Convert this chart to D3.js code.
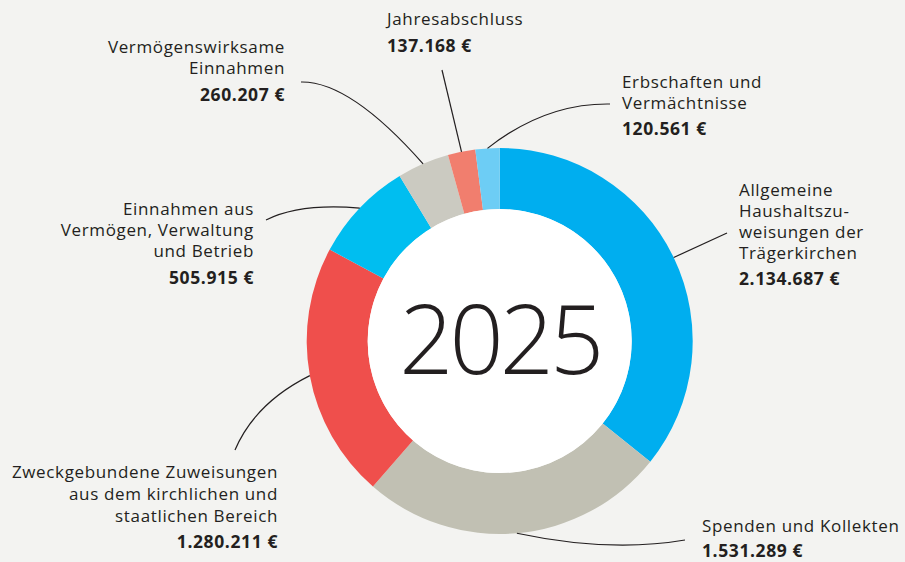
<!DOCTYPE html>
<html>
<head>
<meta charset="utf-8">
<script src="https://cdn.jsdelivr.net/npm/d3@7"></script>
<style>
  html, body { margin: 0; padding: 0; background: #f3f3f1; }
  svg { display: block; }
  .lbl { font-family: "Open Sans", sans-serif; font-size: 17px; fill: #231f20; letter-spacing: 0.65px; }
  .val { font-weight: 700; font-size: 17.5px; letter-spacing: 0.6px; }
</style>
</head>
<body>
<div id="chart"></div>
<script>
// Einnahmen 2025, im Uhrzeigersinn ab 12 Uhr
var categories = [
  ["Allgemeine", "Haushaltszu-", "weisungen der", "Trägerkirchen"],
  ["Spenden und Kollekten"],
  ["Zweckgebundene Zuweisungen", "aus dem kirchlichen und", "staatlichen Bereich"],
  ["Einnahmen aus", "Vermögen, Verwaltung", "und Betrieb"],
  ["Vermögenswirksame", "Einnahmen"],
  ["Jahresabschluss"],
  ["Erbschaften und", "Vermächtnisse"]
];
var values = [2134687, 1531289, 1280211, 505915, 260207, 137168, 120561];
var colors = ["#00aeef", "#c1c0b3", "#ef4f4c", "#00bef0", "#cbcac1", "#f17e6e", "#6dcdf5"];
var centerText = "2025";

// Lage der Beschriftungen (x, erste Grundlinie, Ausrichtung, Abstand zum Betrag) und der Linien
var labelLayout = [
  {x: 739, y: 195.5, anchor: "start", lh: 21, gap: 26, end: [727, 233], ctrl: null},
  {x: 702, y: 531.5, anchor: "start", lh: 21, gap: 25.5, end: [685, 540], ctrl: [610, 553]},
  {x: 278, y: 478, anchor: "end", lh: 21.8, gap: 26.5, end: [235, 450], ctrl: [255, 403]},
  {x: 254, y: 214.5, anchor: "end", lh: 21, gap: 27, end: [266, 220], ctrl: [300, 203]},
  {x: 285, y: 53, anchor: "end", lh: 21.3, gap: 26.7, end: [301, 82], ctrl: [350, 81]},
  {x: 387, y: 25, anchor: "start", lh: 21, gap: 26.7, end: [442, 70], ctrl: null},
  {x: 622, y: 88, anchor: "start", lh: 21, gap: 26.3, end: [610, 104], ctrl: [545, 103]}
];

var width = 905, height = 562;
var cx = 499.7, cy = 341, rOuter = 193, rInner = 132;

var fmt = d3.formatLocale({decimal: ",", thousands: ".", grouping: [3], currency: ["", " €"]}).format(",d");

var svg = d3.select("#chart").append("svg")
  .attr("width", width)
  .attr("height", height);

svg.append("rect").attr("width", width).attr("height", height).attr("fill", "#f3f3f1");

var g = svg.append("g").attr("transform", "translate(" + cx + "," + cy + ")");

var pie = d3.pie().sort(null).value(function (d) { return d; });
var arcs = pie(values);

var arc = d3.arc().innerRadius(rInner).outerRadius(rOuter);

g.selectAll("path.slice")
  .data(arcs)
  .enter().append("path")
  .attr("class", "slice")
  .attr("d", arc)
  .attr("fill", function (d, i) { return colors[i]; });

g.append("circle").attr("r", rInner).attr("fill", "#ffffff");

g.append("text")
  .attr("text-anchor", "middle")
  .attr("y", 33)
  .style("font-family", "'Open Sans', sans-serif")
  .style("font-weight", 300)
  .style("font-size", "95px")
  .style("letter-spacing", "-4px")
  .attr("fill", "#231f20")
  .text(centerText);

// Linien von der Mitte jedes Segments (Außenrand) zur Beschriftung
arcs.forEach(function (d, i) {
  var a = (d.startAngle + d.endAngle) / 2;
  var sx = cx + Math.sin(a) * rOuter;
  var sy = cy - Math.cos(a) * rOuter;
  var L = labelLayout[i];
  var p = d3.path();
  p.moveTo(sx, sy);
  if (L.ctrl) p.quadraticCurveTo(L.ctrl[0], L.ctrl[1], L.end[0], L.end[1]);
  else p.lineTo(L.end[0], L.end[1]);
  svg.append("path")
    .attr("d", p.toString())
    .attr("fill", "none")
    .attr("stroke", "#231f20")
    .attr("stroke-width", 1.2);
});

// Beschriftungen
categories.forEach(function (lines, i) {
  var L = labelLayout[i];
  var t = svg.append("text")
    .attr("class", "lbl")
    .attr("text-anchor", L.anchor);
  lines.forEach(function (line, j) {
    t.append("tspan").attr("x", L.x).attr("y", L.y + j * L.lh).text(line);
  });
  t.append("tspan")
    .attr("class", "val")
    .attr("x", L.x)
    .attr("y", L.y + (lines.length - 1) * L.lh + L.gap)
    .text(fmt(values[i]) + " €");
});
</script>
</body>
</html>
